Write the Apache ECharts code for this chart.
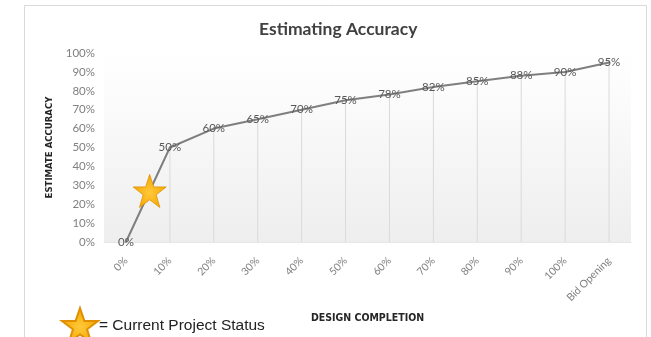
<!DOCTYPE html>
<html>
<head>
<meta charset="utf-8">
<script src="https://cdn.jsdelivr.net/npm/echarts@6/dist/echarts.min.js"></script>
<style>
html,body{margin:0;padding:0;background:#fff;}
#c{width:651px;height:337px;}
</style>
</head>
<body>
<div id="c"></div>
<script>
var categories = ['0%','10%','20%','30%','40%','50%','60%','70%','80%','90%','100%','Bid Opening'];
var accuracy = [0, 50, 60, 65, 70, 75, 78, 82, 85, 88, 90, 95];
var yTicks = [0, 10, 20, 30, 40, 50, 60, 70, 80, 90, 100];
var currentStatus = [[0.54, 27]]; // [category position, accuracy %]
var statusLabel = '= Current Project Status';

var STAR = 'path://M50,2 L61.5,36 L97,36 L68.5,57.5 L79,92 L50,71 L21,92 L31.5,57.5 L3,36 L38.5,36 Z';
var starFill = {
  type: 'radial', x: 0.5, y: 0.55, r: 0.6,
  colorStops: [{offset: 0, color: '#ffc83a'}, {offset: 0.65, color: '#f8b010'}, {offset: 1, color: '#e79a00'}]
};

var chart = echarts.init(document.getElementById('c'));
chart.setOption({
  animation: false,
  backgroundColor: '#ffffff',
  title: {
    text: 'Estimating Accuracy',
    left: 254, top: 15,
    textStyle: {fontFamily: 'Lato', fontWeight: 'bold', fontSize: 17.5, color: '#404040'}
  },
  legend: {
    left: 56, top: 302,
    itemWidth: 36, itemHeight: 36, itemGap: 4,
    data: [{name: statusLabel, icon: STAR, itemStyle: {opacity: 1}}],
    textStyle: {fontFamily: 'Liberation Sans', fontSize: 15.5, color: '#222', padding: [12, 0, 0, -4]}
  },
  graphic: [{
    type: 'rect', silent: true, z: -1,
    shape: {x: 24.5, y: 5.5, width: 622, height: 345},
    style: {fill: null, stroke: '#d9d9d9', lineWidth: 1}
  }],
  grid: {
    left: 104, right: 20, top: 53, bottom: 95,
    show: true, borderWidth: 0,
    backgroundColor: {
      type: 'linear', x: 0, y: 0, x2: 0, y2: 1,
      colorStops: [{offset: 0, color: '#ffffff'}, {offset: 0.2, color: '#fcfcfc'}, {offset: 1, color: '#eeeeee'}]
    }
  },
  xAxis: [{
    type: 'category', data: categories, boundaryGap: true,
    name: 'DESIGN COMPLETION', nameLocation: 'middle', nameGap: 71,
    nameTextStyle: {fontFamily: 'DejaVu Sans Condensed', fontWeight: 'bold', fontSize: 10.5, color: '#262626'},
    axisLine: {show: true, lineStyle: {color: '#e6e6e6'}},
    axisTick: {show: false},
    axisLabel: {rotate: 45, margin: 17, fontFamily: 'Lato', fontSize: 10.5, color: '#7f7f7f', interval: 0}
  }, {
    type: 'value', min: -0.5, max: 11.5, show: false
  }],
  yAxis: [{
    type: 'value', min: 0, max: 100, interval: 10,
    name: 'ESTIMATE ACCURACY', nameLocation: 'middle', nameRotate: 90, nameGap: 41,
    nameTextStyle: {fontFamily: 'DejaVu Sans Condensed', fontWeight: 'bold', fontSize: 9.5, color: '#262626'},
    axisLine: {show: false}, axisTick: {show: false}, splitLine: {show: false},
    axisLabel: {formatter: '{value}%', margin: 9, fontFamily: 'Lato', fontSize: 11.5, color: '#808080'}
  }],
  series: [{
    type: 'bar', data: accuracy, barWidth: 1, silent: true, z: 1,
    itemStyle: {color: '#dadada'}
  }, {
    type: 'line', data: accuracy, z: 3,
    symbol: 'circle', symbolSize: 2,
    lineStyle: {color: '#7f7f7f', width: 2},
    itemStyle: {color: '#7f7f7f'},
    label: {show: true, position: 'inside', formatter: '{c}%', fontFamily: 'Lato', fontSize: 11.5, color: '#595959'}
  }, {
    name: statusLabel,
    type: 'scatter', xAxisIndex: 1, yAxisIndex: 0, z: 5,
    data: currentStatus,
    symbol: STAR, symbolSize: 33,
    itemStyle: {color: starFill, borderColor: '#e09000', borderWidth: 0.8, opacity: 1}
  }]
});
</script>
</body>
</html>
